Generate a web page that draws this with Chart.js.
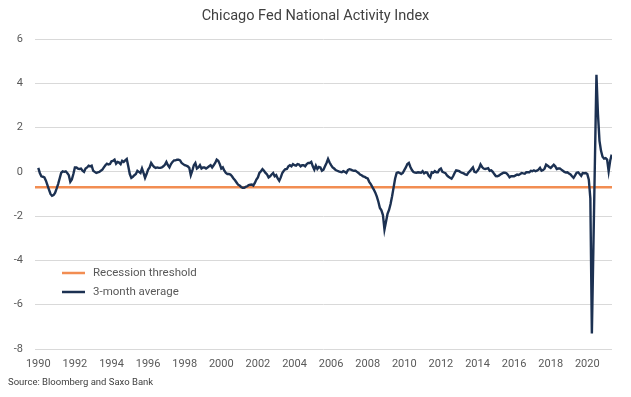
<!DOCTYPE html>
<html>
<head>
<meta charset="utf-8">
<title>Chicago Fed National Activity Index</title>
<script src="https://cdn.jsdelivr.net/npm/chart.js@4.4.1/dist/chart.umd.min.js"></script>
<style>
  html, body { margin: 0; padding: 0; background: #fff; }
  canvas { display: block; }
</style>
</head>
<body>
<canvas id="cfnaiChart" width="631" height="397"></canvas>
<script>
const TITLE = 'Chicago Fed National Activity Index';
const SOURCE = 'Source: Bloomberg and Saxo Bank';
const START_YEAR = 1990;          // first monthly value is Jan 1990
const RECESSION_THRESHOLD = -0.7;
const yearTicks = [1990, 1992, 1994, 1996, 1998, 2000, 2002, 2004, 2006, 2008, 2010, 2012, 2014, 2016, 2018, 2020];

// CFNAI 3-month average, monthly
const ma3_1990s = [
    0.18, -0.05, -0.2, -0.22, -0.25, -0.4, -0.6, -0.8, -1.0, -1.08, -1.05, -0.95,
    -0.76, -0.55, -0.3, -0.05, 0.02, 0.0, 0.02, -0.05, -0.15, -0.45, -0.35, -0.1,
    0.2, 0.2, 0.15, 0.13, 0.15, 0.05, 0.0, 0.15, 0.2, 0.28, 0.25, 0.28,
    0.05, 0.0, -0.05, -0.02, 0.0, 0.05, 0.1, 0.2, 0.3, 0.37, 0.33, 0.35,
    0.48, 0.5, 0.55, 0.37, 0.45, 0.42, 0.35, 0.5, 0.45, 0.52, 0.58, 0.25,
    -0.1, -0.27, -0.22, -0.15, -0.1, 0.05, 0.0, -0.05, 0.15, -0.05, -0.27, -0.1,
    0.1, 0.2, 0.4, 0.3, 0.22, 0.18, 0.2, 0.18, 0.18, 0.2, 0.25, 0.32,
    0.45, 0.3, 0.2, 0.35, 0.45, 0.52, 0.52, 0.55, 0.55, 0.52, 0.4, 0.35,
    0.3, 0.28, 0.25, 0.18, -0.15, 0.05, 0.3, 0.4, 0.15, 0.2, 0.3, 0.15,
    0.2, 0.2, 0.15, 0.2, 0.25, 0.3, 0.2, 0.3, 0.4, 0.55, 0.5, 0.35
];
const ma3_2000s = [
    0.15, 0.2, 0.05, -0.05, -0.1, -0.1, -0.12, -0.2, -0.3, -0.38, -0.48, -0.58,
    -0.62, -0.68, -0.72, -0.72, -0.68, -0.65, -0.6, -0.58, -0.57, -0.62, -0.5, -0.35,
    -0.25, -0.05, 0.03, 0.12, 0.05, -0.05, -0.12, -0.25, -0.2, -0.12, -0.05, -0.2,
    -0.15, -0.3, -0.4, -0.25, -0.05, 0.05, 0.12, 0.13, 0.25, 0.3, 0.25, 0.35,
    0.3, 0.28, 0.35, 0.33, 0.25, 0.3, 0.3, 0.25, 0.35, 0.4, 0.4, 0.45,
    0.25, 0.1, 0.28, 0.13, 0.22, 0.2, 0.05, 0.1, 0.25, 0.4, 0.58, 0.42,
    0.3, 0.2, 0.15, 0.08, 0.05, 0.02, 0.0, -0.02, 0.03, 0.0, -0.05, 0.08,
    0.12, 0.1, 0.07, 0.05, 0.05, 0.0, -0.05, -0.12, -0.15, -0.2, -0.22, -0.27,
    -0.3, -0.45, -0.55, -0.68, -0.8, -0.94, -1.12, -1.35, -1.63, -1.74, -1.95, -2.6,
    -2.25, -1.9, -1.72, -1.45, -1.1, -0.7, -0.3, -0.05, -0.02, -0.05, -0.1, -0.05
];
const ma3_2010s = [
    0.08, 0.2, 0.35, 0.4, 0.22, 0.08, -0.01, -0.03, -0.04, -0.02, -0.03, -0.04,
    0.03, -0.07, -0.02, -0.03, -0.18, -0.25, -0.02, -0.04, 0.03, -0.02, -0.02, 0.1,
    0.15, 0.0, -0.03, -0.06, -0.16, -0.22, -0.27, -0.31, -0.2, -0.05, 0.07, 0.05,
    0.03, -0.02, -0.05, -0.07, -0.12, -0.14, -0.04, 0.03, 0.12, 0.2, 0.0, -0.02,
    0.05, 0.15, 0.33, 0.22, 0.15, 0.13, 0.15, 0.17, 0.05, 0.07, 0.0, -0.1,
    -0.19, -0.2, -0.17, -0.12, -0.08, -0.04, -0.04, -0.06, -0.14, -0.25, -0.2, -0.2,
    -0.2, -0.16, -0.12, -0.14, -0.1, -0.05, -0.07, -0.08, -0.02, -0.02, -0.02, 0.05,
    0.03, 0.07, 0.03, 0.05, 0.1, 0.18, 0.05, 0.08, 0.15, 0.33, 0.28, 0.22,
    0.18, 0.25, 0.32, 0.25, 0.13, 0.15, 0.15, 0.1, 0.05, 0.0, -0.03, -0.02,
    -0.08, -0.12, -0.2, -0.27, -0.16, -0.04, -0.02, -0.1, -0.18, -0.05, -0.06, -0.05
];
const ma3_2020s = [
    -0.1, -0.35, -1.2, -7.3, -3.4, 0.5, 4.38, 2.6, 1.4, 0.95, 0.68, 0.6,
    0.62, 0.55, 0.03, 0.5, 0.78
];

const ma3Values = [...ma3_1990s, ...ma3_2000s, ...ma3_2010s, ...ma3_2020s];

const X_MIN = 1989.82;
const X_MAX = 2021.35;

const averagePoints = ma3Values.map((v, i) => ({ x: START_YEAR + i / 12, y: v }));
const thresholdPoints = [{ x: X_MIN, y: RECESSION_THRESHOLD }, { x: X_MAX, y: RECESSION_THRESHOLD }];

const COLORS = {
    threshold: '#f28d52',
    average: '#1c3152',
    grid: '#d9d9d9',
    tick: '#595959',
    text: '#404040'
};

Chart.defaults.font.family = 'Roboto, "Noto Sans", sans-serif';
Chart.defaults.color = COLORS.tick;

// title, source line and the legend inside the plot
const decorations = {
    id: 'decorations',
    afterDraw(chart) {
        const { ctx } = chart;
        ctx.save();
        ctx.fillStyle = COLORS.text;
        ctx.textBaseline = 'middle';

        ctx.font = '14.5px Roboto';
        ctx.textAlign = 'center';
        ctx.fillText(TITLE, chart.width / 2, 16);

        ctx.font = '9.5px Roboto';
        ctx.textAlign = 'left';
        ctx.fillText(SOURCE, 8, 383);

        ctx.font = '11.5px Roboto';
        ctx.fillStyle = COLORS.tick;
        chart.data.datasets.forEach((ds, i) => {
            const y = 273 + i * 19;
            ctx.strokeStyle = ds.borderColor;
            ctx.lineWidth = 2.5;
            ctx.beginPath();
            ctx.moveTo(62, y);
            ctx.lineTo(85, y);
            ctx.stroke();
            ctx.fillText(ds.label, 93, y + 0.5);
        });
        ctx.restore();
    }
};

new Chart(document.getElementById('cfnaiChart'), {
    type: 'line',
    data: {
        datasets: [
            {
                label: 'Recession threshold',
                data: thresholdPoints,
                borderColor: COLORS.threshold,
                borderWidth: 2.5,
                pointRadius: 0,
                order: 1
            },
            {
                label: '3-month average',
                data: averagePoints,
                borderColor: COLORS.average,
                borderWidth: 2.4,
                pointRadius: 0,
                tension: 0,
                order: 0
            }
        ]
    },
    options: {
        responsive: false,
        animation: false,
        devicePixelRatio: 1,
        layout: { padding: { top: 39, right: 19, bottom: 28, left: 0 } },
        plugins: {
            legend: { display: false },
            title: { display: false },
            tooltip: { enabled: false }
        },
        scales: {
            x: {
                type: 'linear',
                min: X_MIN,
                max: X_MAX,
                afterBuildTicks: (axis) => { axis.ticks = yearTicks.map(v => ({ value: v })); },
                afterFit: (axis) => { axis.height = 20; },
                grid: { display: false, drawTicks: false },
                border: { display: false },
                ticks: {
                    autoSkip: false,
                    maxRotation: 0,
                    padding: 9,
                    color: COLORS.tick,
                    font: { size: 11 },
                    callback: (v) => String(v)
                }
            },
            y: {
                min: -8,
                max: 6,
                afterFit: (axis) => { axis.width = 35; },
                grid: { color: COLORS.grid, lineWidth: 1, drawTicks: false },
                border: { display: false },
                ticks: {
                    stepSize: 2,
                    padding: 12,
                    color: COLORS.tick,
                    font: { size: 11 }
                }
            }
        }
    },
    plugins: [decorations]
});
</script>
</body>
</html>
